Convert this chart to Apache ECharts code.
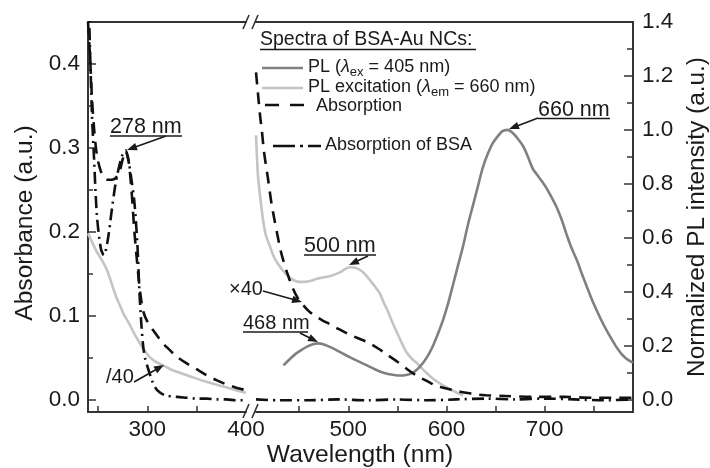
<!DOCTYPE html>
<html>
<head>
<meta charset="utf-8">
<script src="https://cdn.jsdelivr.net/npm/echarts@6/dist/echarts.min.js"></script>
<style>
html, body { margin: 0; padding: 0; background: #fff; }
#chart { width: 710px; height: 468px; }
</style>
</head>
<body>
<div id="chart"></div>
<script>
// ---- data ----
// left part of the broken axis (240-400 nm), absorbance scale
const absLeftNm = [240, 242, 244, 246, 248, 250, 253, 256, 260, 264, 268, 272, 275, 278, 281, 284, 287, 290, 293, 296, 300, 305, 310, 315, 320, 330, 340, 350, 360, 370, 380, 390, 400];
const absLeft = [0.45, 0.41, 0.36, 0.325, 0.3, 0.285, 0.272, 0.265, 0.262, 0.262, 0.264, 0.272, 0.286, 0.296, 0.285, 0.25, 0.2, 0.16, 0.126, 0.105, 0.093, 0.084, 0.076, 0.068, 0.062, 0.051, 0.043, 0.036, 0.029, 0.023, 0.018, 0.014, 0.011];

const bsaLeftNm = [240, 242, 244, 246, 249, 253, 256, 260, 264, 268, 272, 275, 278, 281, 284, 287, 290, 292, 294, 296, 298, 300, 305, 310, 318, 330, 340, 350, 360, 370, 380, 390, 400];
const bsaLeft = [0.5, 0.42, 0.34, 0.29, 0.22, 0.18, 0.172, 0.19, 0.225, 0.258, 0.28, 0.292, 0.297, 0.285, 0.262, 0.235, 0.185, 0.13, 0.09, 0.062, 0.048, 0.04, 0.022, 0.011, 0.005, 0.003, 0.002, 0.001, 0.001, 0, 0, -0.001, -0.001];

const excLeftNm = [240, 244, 248, 252, 256, 260, 264, 268, 272, 276, 280, 284, 288, 292, 295, 298, 302, 306, 310, 317, 325, 335, 347, 360, 375, 390, 400];
const excLeft = [0.198, 0.188, 0.178, 0.17, 0.162, 0.152, 0.138, 0.124, 0.113, 0.102, 0.094, 0.085, 0.076, 0.068, 0.062, 0.057, 0.051, 0.047, 0.044, 0.04, 0.035, 0.031, 0.026, 0.021, 0.016, 0.011, 0.008];

// right part of the broken axis (406-790 nm)
const absRightNm = [406, 408, 410, 412, 414, 416, 418, 420, 422, 425, 428, 431, 434, 438, 443, 448, 453, 460, 467, 474, 481, 490, 500, 510, 520, 530, 540, 550, 560, 570, 580, 590, 600, 610, 620, 630, 640, 660, 690, 720, 750, 790];
const absRight = [0.39, 0.365, 0.34, 0.32, 0.297, 0.28, 0.265, 0.248, 0.232, 0.213, 0.195, 0.178, 0.165, 0.15, 0.134, 0.122, 0.114, 0.105, 0.099, 0.094, 0.09, 0.084, 0.078, 0.073, 0.068, 0.061, 0.053, 0.045, 0.036, 0.028, 0.022, 0.016, 0.013, 0.01, 0.008, 0.006, 0.005, 0.004, 0.003, 0.003, 0.002, 0.002];

const bsaRightNm = [406, 430, 460, 490, 520, 550, 580, 610, 640, 670, 700, 730, 760, 790];
const bsaRight = [0, -0.001, -0.001, 0, -0.001, 0, -0.001, 0, 0.001, 0, 0.001, 0, -0.001, 0];

const excRightNm = [406, 407, 408, 410, 413, 416, 420, 424, 428, 433, 438, 444, 450, 456, 462, 468, 474, 480, 486, 492, 497, 502, 507, 512, 517, 522, 527, 532, 536, 540, 545, 550, 555, 560, 565, 570, 575, 580, 587, 593, 600, 608, 617];
const excRight = [0.98, 0.9, 0.83, 0.76, 0.67, 0.61, 0.57, 0.53, 0.505, 0.48, 0.46, 0.443, 0.436, 0.436, 0.44, 0.448, 0.452, 0.456, 0.463, 0.472, 0.484, 0.49, 0.488, 0.48, 0.465, 0.443, 0.42, 0.394, 0.36, 0.33, 0.285, 0.245, 0.205, 0.171, 0.15, 0.134, 0.115, 0.097, 0.075, 0.06, 0.045, 0.03, 0.015];

const plNm = [434, 440, 446, 452, 458, 464, 469, 476, 484, 493, 502, 511, 519, 527, 535, 542, 550, 556, 562, 567, 572, 577, 582, 587, 592, 597, 602, 607, 612, 617, 622, 627, 632, 637, 642, 647, 652, 657, 662, 667, 672, 678, 683, 688, 692, 697, 702, 707, 712, 717, 722, 727, 733, 738, 743, 748, 753, 758, 763, 768, 773, 778, 783, 788, 790];
const pl = [0.126, 0.148, 0.168, 0.183, 0.196, 0.205, 0.208, 0.203, 0.19, 0.173, 0.156, 0.14, 0.126, 0.112, 0.1, 0.093, 0.089, 0.089, 0.093, 0.102, 0.118, 0.14, 0.168, 0.205, 0.25, 0.3, 0.36, 0.43, 0.5, 0.57, 0.65, 0.72, 0.79, 0.86, 0.91, 0.95, 0.975, 0.995, 1.0, 0.99, 0.97, 0.94, 0.9, 0.855, 0.835, 0.81, 0.783, 0.75, 0.715, 0.67, 0.616, 0.565, 0.515, 0.465, 0.418, 0.372, 0.331, 0.292, 0.257, 0.225, 0.195, 0.17, 0.152, 0.14, 0.137];

// ticks and labels
const xLeftTicks = [250, 300, 350];
const xLeftLabels = [300, 400];
const xRightTicks = [450, 500, 550, 600, 650, 700, 750];
const xRightLabels = [500, 600, 700];
const absTicks = [0, 0.1, 0.2, 0.3, 0.4];
const absMinor = [0.05, 0.15, 0.25, 0.35];
const plTicks = [0, 0.2, 0.4, 0.6, 0.8, 1.0, 1.2, 1.4];
const plMinor = [0.1, 0.3, 0.5, 0.7, 0.9, 1.1, 1.3];

const FONT = "'Liberation Sans', Arial, sans-serif";
const INK = '#1a1a1a';
const AXIS = '#333';
const GRAY = '#808080';
const LIGHT = '#c4c4c4';
const DASH = [12, 8];
const DASHDOT = [12, 5, 2, 5];

function pairs(xs, ys) {
  return xs.map(function (x, i) { return [x, ys[i]]; });
}

function xAxisOf(grid, min, max, ticks, labels, pos) {
  const top = pos === 'top';
  return {
    type: 'value', gridIndex: grid, min: min, max: max, position: pos,
    axisLine: { show: true, onZero: false, lineStyle: { color: AXIS, width: 2 } },
    axisTick: top ? { show: false } : { show: true, inside: true, length: 6, customValues: ticks, lineStyle: { color: AXIS, width: 1.5 } },
    axisLabel: top ? { show: false } : { show: true, customValues: labels, margin: 6, color: INK, fontSize: 22.5, fontFamily: FONT },
    splitLine: { show: false }
  };
}

function yAxisOf(grid, min, max, ticks, len, pos, withLine, withLabels) {
  return {
    type: 'value', gridIndex: grid, min: min, max: max, position: pos,
    axisLine: { show: withLine, onZero: false, lineStyle: { color: AXIS, width: 2 } },
    axisTick: { show: true, inside: true, length: len, customValues: ticks, lineStyle: { color: AXIS, width: 1.5 } },
    axisLabel: withLabels ? {
      show: true, customValues: ticks, margin: pos === 'left' ? 8 : 9, color: INK, fontSize: 22.5, fontFamily: FONT,
      formatter: function (v) { return v.toFixed(1); }
    } : { show: false },
    splitLine: { show: false }
  };
}

function lineSeries(data, xi, yi, color, type, width) {
  return {
    type: 'line', data: data, xAxisIndex: xi, yAxisIndex: yi,
    showSymbol: false, symbol: 'none', smooth: 0.3, silent: true,
    lineStyle: { color: color, width: width, type: type, cap: 'butt' },
    animation: false
  };
}

// annotation helpers (pixel positions of labels/arrows)
function seg(x1, y1, x2, y2, w, color, dash) {
  return { type: 'line', z: 100, silent: true, shape: { x1: x1, y1: y1, x2: x2, y2: y2 },
    style: { stroke: color || INK, lineWidth: w || 1.5, lineDash: dash || null } };
}
function arrow(x1, y1, x2, y2) {
  const dx = x2 - x1, dy = y2 - y1, d = Math.sqrt(dx * dx + dy * dy);
  const ux = dx / d, uy = dy / d, L = 10, W = 3.8;
  const bx = x2 - ux * L, by = y2 - uy * L;
  return [
    seg(x1, y1, bx + ux * 2, by + uy * 2, 1.6),
    { type: 'polygon', z: 100, silent: true,
      shape: { points: [[x2, y2], [bx - uy * W, by + ux * W], [bx + uy * W, by - ux * W]] },
      style: { fill: INK } }
  ];
}
function txt(s, x, y, size, opts) {
  const st = Object.assign({ text: s, x: x, y: y, fill: INK, fontSize: size, fontFamily: FONT,
    textAlign: 'left', textVerticalAlign: 'middle' }, opts || {});
  return { type: 'text', z: 100, silent: true, style: st };
}
function rot(s, x, y, size) {
  return { type: 'text', z: 100, silent: true, x: x, y: y, rotation: Math.PI / 2,
    style: { text: s, x: 0, y: 0, fill: INK, fontSize: size, fontFamily: FONT, textAlign: 'center', textVerticalAlign: 'middle' } };
}

const graphics = [].concat(
  // axis titles
  [txt('Wavelength (nm)', 360, 455, 24.6, { textAlign: 'center' }),
   rot('Absorbance (a.u.)', 25, 223, 24.6),
   rot('Normalized PL intensity (a.u.)', 697, 217, 24.4)],
  // axis break marks
  [seg(243, 418, 249, 404, 1.6, AXIS), seg(252, 418, 258, 404, 1.6, AXIS),
   seg(243, 29, 249, 15, 1.6, AXIS), seg(252, 29, 258, 15, 1.6, AXIS)],
  // legend block
  [txt('Spectra of BSA-Au NCs:', 260, 40, 19.5), seg(260, 49.5, 476, 49.5, 1.4),
   seg(262, 68, 303, 68, 2.6, GRAY),
   txt('{a|PL (}{l|λ}{s|ex}{a| = 405 nm)}', 308, 67, 18, { rich: {
     a: { fontSize: 18, fontFamily: FONT, lineHeight: 24 },
     l: { fontSize: 18, fontFamily: FONT, fontStyle: 'italic', lineHeight: 24 },
     s: { fontSize: 13, fontFamily: FONT, verticalAlign: 'bottom', lineHeight: 16 } } }),
   seg(262, 88, 303, 88, 2.6, LIGHT),
   txt('{a|PL excitation (}{l|λ}{s|em}{a| = 660 nm)}', 308, 87, 18, { rich: {
     a: { fontSize: 18, fontFamily: FONT, lineHeight: 24 },
     l: { fontSize: 18, fontFamily: FONT, fontStyle: 'italic', lineHeight: 24 },
     s: { fontSize: 13, fontFamily: FONT, verticalAlign: 'bottom', lineHeight: 16 } } }),
   seg(265, 105, 304, 105, 2.6, '#111', [14, 11]),
   txt('Absorption', 316, 106, 18),
   seg(273, 146, 321, 146, 2.6, '#111', [22, 5, 3, 5]),
   txt('Absorption of BSA', 325, 145, 18)],
  // peak annotations
  [txt('278 nm', 110, 127, 21.5), seg(110, 136, 182, 136, 1.4)],
  arrow(166, 136, 127, 150),
  [txt('500 nm', 304, 246, 21.5), seg(304, 255, 376, 255, 1.4)],
  arrow(368, 256, 349, 265),
  [txt('660 nm', 538, 110, 21.5), seg(538, 118.5, 610, 118.5, 1.4)],
  arrow(538, 118, 509, 129),
  [txt('468 nm', 243, 323, 20), seg(243, 332, 308, 332, 1.4)],
  arrow(300, 333, 318, 342),
  [txt('×40', 229, 289, 20)],
  arrow(263, 291, 302, 302),
  [txt('/40', 106, 377, 20)],
  arrow(134, 382, 164, 365)
);

const chart = echarts.init(document.getElementById('chart'), null, { renderer: 'canvas', width: 710, height: 468 });

const option = {
  backgroundColor: '#fff',
  animation: false,
  textStyle: { fontFamily: FONT },
  grid: [
    { left: 88, top: 22, width: 158, height: 390 },
    { left: 256, top: 22, width: 377, height: 390 }
  ],
  xAxis: [
    xAxisOf(0, 240, 400, xLeftTicks, xLeftLabels, 'bottom'),
    xAxisOf(1, 406, 790, xRightTicks, xRightLabels, 'bottom'),
    xAxisOf(0, 240, 400, [], [], 'top'),
    xAxisOf(1, 406, 790, [], [], 'top')
  ],
  yAxis: [
    yAxisOf(0, -0.015, 0.45, absTicks, 8, 'left', true, true),
    yAxisOf(0, -0.015, 0.45, absMinor, 5, 'left', false, false),
    { type: 'value', gridIndex: 1, min: -0.015, max: 0.45, position: 'left', show: false },
    yAxisOf(1, -0.04667, 1.4, plTicks, 9, 'right', true, true),
    yAxisOf(1, -0.04667, 1.4, plMinor, 6, 'right', false, false)
  ],
  series: [
    lineSeries(pairs(excLeftNm, excLeft), 0, 0, LIGHT, 'solid', 2.6),
    lineSeries(pairs(bsaLeftNm, bsaLeft), 0, 0, '#111', DASHDOT, 2.6),
    lineSeries(pairs(absLeftNm, absLeft), 0, 0, '#111', DASH, 2.6),
    lineSeries(pairs(excRightNm, excRight), 1, 3, LIGHT, 'solid', 2.6),
    lineSeries(pairs(plNm, pl), 1, 3, GRAY, 'solid', 2.6),
    lineSeries(pairs(bsaRightNm, bsaRight), 1, 2, '#111', DASHDOT, 2.6),
    lineSeries(pairs(absRightNm, absRight), 1, 2, '#111', DASH, 2.6)
  ],
  graphic: { elements: graphics }
};

chart.setOption(option);
</script>
</body>
</html>
